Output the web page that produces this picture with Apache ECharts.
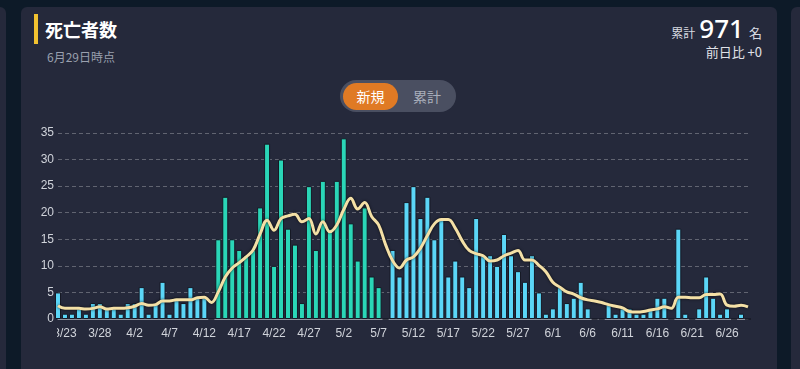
<!DOCTYPE html>
<html><head><meta charset="utf-8">
<script src="https://cdn.jsdelivr.net/npm/echarts@6/dist/echarts.min.js"></script>
<style>
html,body{margin:0;padding:0;width:800px;height:369px;overflow:hidden;background:#0d1a28;font-family:"Noto Sans","Noto Sans CJK JP",sans-serif;}
.card{position:absolute;background:#25293b;border-radius:6px;}
#chart{position:absolute;left:0;top:0;width:800px;height:369px;}
.t{position:absolute;white-space:nowrap;}
</style></head>
<body>
<div class="card" style="left:-20px;top:7px;width:26px;height:400px;"></div>
<div class="card" style="left:21px;top:7px;width:756px;height:400px;"></div>
<div class="card" style="left:791px;top:7px;width:40px;height:400px;"></div>
<div style="position:absolute;left:34px;top:14px;width:4px;height:30px;background:#f2c230;"></div>
<div class="t" style="left:45px;top:19px;font-size:18px;line-height:20px;font-weight:700;color:#ffffff;font-family:'Noto Sans CJK JP',sans-serif;">死亡者数</div>
<div class="t" style="left:47px;top:50px;font-size:12px;line-height:14px;color:#9aa0ae;font-family:'Noto Sans CJK JP',sans-serif;">6月29日時点</div>
<div style="position:absolute;left:340px;top:80px;width:116px;height:32px;border-radius:16px;background:#4a4f61;"></div>
<div style="position:absolute;left:343px;top:83px;width:55px;height:27px;border-radius:14px;background:#e07a24;"></div>
<div class="t" style="left:343px;top:83px;width:55px;text-align:center;font-size:14px;line-height:27px;color:#ffffff;font-family:'Noto Sans CJK JP',sans-serif;">新規</div>
<div class="t" style="left:400px;top:83px;width:54px;text-align:center;font-size:14px;line-height:27px;color:#a9aebb;font-family:'Noto Sans CJK JP',sans-serif;">累計</div>
<div class="t" style="right:38px;top:14px;color:#ffffff;font-family:'Noto Sans CJK JP',sans-serif;display:flex;align-items:baseline;">
  <span style="font-size:12px;color:#d8dbe2;">累計</span><span style="font-size:26px;font-weight:500;font-family:'Noto Sans',sans-serif;margin:0 5px 0 4px;line-height:28px;">971</span><span style="font-size:13px;color:#d8dbe2;">名</span>
</div>
<div class="t" style="right:38px;top:44px;font-size:13px;line-height:15px;color:#e0e2e8;font-family:'Noto Sans CJK JP',sans-serif;">前日比 +0</div>
<div id="chart"></div>
<script>
const dates = [
 '3/22','3/23','3/24','3/25','3/26','3/27','3/28','3/29','3/30','3/31',
 '4/1','4/2','4/3','4/4','4/5','4/6','4/7','4/8','4/9','4/10','4/11','4/12','4/13','4/14','4/15','4/16','4/17','4/18','4/19','4/20','4/21','4/22','4/23','4/24','4/25','4/26','4/27','4/28','4/29','4/30',
 '5/1','5/2','5/3','5/4','5/5','5/6','5/7','5/8','5/9','5/10','5/11','5/12','5/13','5/14','5/15','5/16','5/17','5/18','5/19','5/20','5/21','5/22','5/23','5/24','5/25','5/26','5/27','5/28','5/29','5/30','5/31',
 '6/1','6/2','6/3','6/4','6/5','6/6','6/7','6/8','6/9','6/10','6/11','6/12','6/13','6/14','6/15','6/16','6/17','6/18','6/19','6/20','6/21','6/22','6/23','6/24','6/25','6/26','6/27','6/28','6/29'
];
const dailyDeaths = [
 5,1,1,2,1,3,3,2,2,1,
 3,3,6,1,3,7,1,4,3,6,4,4,0,15,23,15,13,12,13,21,33,10,30,17,14,3,25,13,26,17,
 26,34,18,11,21,8,6,0,13,8,22,25,19,23,15,19,8,11,8,6,19,12,12,10,16,12,9,7,12,5,1,
 2,6,3,4,7,2,0,0,3,1,2,2,1,1,2,4,4,0,17,1,0,2,8,4,1,2,0,1,0
];
const weeklyAverage = [
 2.5,2.0,2.0,2.0,1.9,2.0,2.3,1.9,2.0,2.0,
 2.1,2.4,2.9,2.6,2.7,3.4,3.4,3.6,3.6,3.6,4.0,4.1,3.1,5.1,7.9,9.6,10.6,11.7,13.0,16.0,18.6,16.7,18.9,19.4,19.7,18.3,18.9,16.0,18.3,16.4,
 17.7,20.6,22.7,20.7,21.9,19.3,17.7,14.0,11.0,9.6,11.1,11.7,13.3,15.7,17.9,18.7,18.7,17.1,14.7,12.9,12.3,11.9,10.9,11.1,11.9,12.4,12.9,11.1,11.1,10.1,8.9,
 6.9,6.0,5.1,4.7,4.0,3.6,3.4,3.1,2.7,2.4,2.1,1.4,1.3,1.4,1.7,1.9,2.3,2.0,4.1,4.1,4.0,4.0,4.6,4.6,4.7,2.6,2.4,2.6,2.3
];
const highlightFrom = '4/13';
const highlightTo = '5/7';
const yTicks = [0,5,10,15,20,25,30,35];

const hiStart = dates.indexOf(highlightFrom), hiEnd = dates.indexOf(highlightTo);
const chart = echarts.init(document.getElementById('chart'), null, {renderer:'canvas'});
chart.setOption({
  animation:false,
  backgroundColor:'transparent',
  grid:{left:58,right:52,top:133,bottom:50,containLabel:false},
  xAxis:{
    type:'category', data:dates, boundaryGap:false,
    axisLine:{show:true,lineStyle:{color:'#8e929d',width:1}},
    axisTick:{show:false},
    axisLabel:{color:'#d0d3da',fontSize:12,fontWeight:500,fontFamily:'Liberation Sans, Arial, sans-serif',margin:9,
      interval:function(i){return (i-1)%5===0;}},
    splitLine:{show:false}
  },
  yAxis:{
    type:'value', min:yTicks[0], max:yTicks[yTicks.length-1], interval:yTicks[1]-yTicks[0],
    axisLine:{show:false}, axisTick:{show:false},
    axisLabel:{color:'#d0d3da',fontSize:12,fontFamily:'Liberation Sans, Arial, sans-serif',margin:4},
    splitLine:{show:true,lineStyle:{color:'rgba(255,255,255,0.28)',type:[4,3],width:1}}
  },
  graphic:[{type:'rect',shape:{x:21,y:326,width:36,height:18},style:{fill:'#25293b'},z:100}],
  series:[
    {type:'bar', data:dailyDeaths, barWidth:6, clip:true,
     itemStyle:{borderColor:'#161925',borderWidth:1,
       color:function(p){return (p.dataIndex>=hiStart && p.dataIndex<=hiEnd)?'#2ad6b7':'#5bd6f7';}},
     z:2},
    {type:'line', data:weeklyAverage, smooth:0.4, symbol:'none', z:3,
     lineStyle:{color:'#f4e0a6',width:3,shadowColor:'rgba(0,0,0,0.7)',shadowBlur:3}}
  ]
});
</script>
</body></html>
